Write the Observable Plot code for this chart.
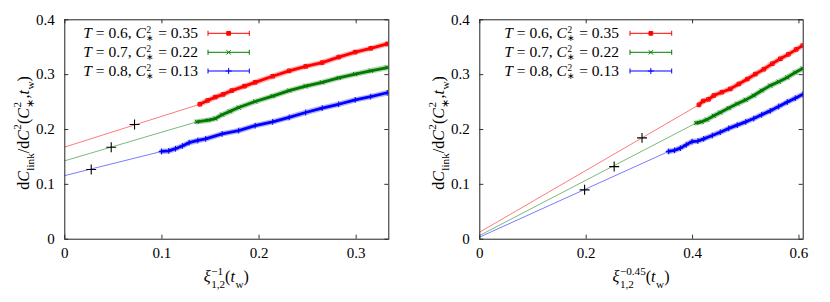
<!DOCTYPE html>
<html><head><meta charset="utf-8">
<script src="https://cdn.jsdelivr.net/npm/d3@7"></script>
<script src="https://cdn.jsdelivr.net/npm/@observablehq/plot@0.6"></script>
<style>
html,body{margin:0;padding:0;background:#fff;}
#row{display:flex;flex-direction:row;width:830px;height:302px;}
svg{display:block;}
svg text{font-family:'Liberation Serif','Times New Roman',serif !important;}
</style>
</head><body><div id="row"></div>
<script>
// ---------- data ----------
const seriesNames = ["T=0.6", "T=0.7", "T=0.8"];
const seriesColors = ["#ff0000", "#007a00", "#0000ff"];
const legendTemps = ["0.6", "0.7", "0.8"];
const legendC2 = ["0.35", "0.22", "0.13"];

// Left panel: x = xi^{-1}
const xTicksA = [0, 0.1, 0.2, 0.3];
const yTicks = [0, 0.1, 0.2, 0.3, 0.4];
const redA_x = [0.139, 0.147, 0.155, 0.163, 0.172, 0.185, 0.196, 0.214, 0.231, 0.248, 0.265, 0.282, 0.299, 0.315, 0.332];
const redA_y = [0.246, 0.253, 0.259, 0.264, 0.271, 0.279, 0.286, 0.297, 0.307, 0.315, 0.322, 0.332, 0.341, 0.348, 0.356];
const greenA_x = [0.136, 0.148, 0.155, 0.162, 0.170, 0.179, 0.196, 0.214, 0.231, 0.248, 0.265, 0.282, 0.299, 0.315, 0.332];
const greenA_y = [0.214, 0.217, 0.220, 0.227, 0.233, 0.240, 0.251, 0.261, 0.271, 0.279, 0.286, 0.294, 0.301, 0.307, 0.313];
const blueA_x = [0.0996, 0.107, 0.114, 0.121, 0.128, 0.137, 0.145, 0.162, 0.179, 0.196, 0.214, 0.231, 0.248, 0.265, 0.282, 0.299, 0.315, 0.332];
const blueA_y = [0.160, 0.161, 0.165, 0.170, 0.176, 0.180, 0.183, 0.192, 0.198, 0.207, 0.214, 0.222, 0.231, 0.239, 0.246, 0.254, 0.260, 0.267];
const fitInterceptA = [0.168, 0.143, 0.116];
const crossA_x = [0.0718, 0.0478, 0.0272];
const crossA_y = [0.209, 0.1676, 0.127];

// Right panel: x = xi^{-0.45}
const xTicksB = [0, 0.2, 0.4, 0.6];
const redB_x = [0.412, 0.420, 0.430, 0.440, 0.455, 0.471, 0.487, 0.503, 0.518, 0.534, 0.550, 0.565, 0.580, 0.595, 0.607];
const redB_y = [0.245, 0.252, 0.255, 0.262, 0.268, 0.274, 0.283, 0.292, 0.301, 0.310, 0.320, 0.329, 0.337, 0.346, 0.353];
const greenB_x = [0.407, 0.417, 0.427, 0.440, 0.452, 0.468, 0.484, 0.500, 0.515, 0.530, 0.546, 0.562, 0.578, 0.593, 0.607];
const greenB_y = [0.212, 0.214, 0.218, 0.225, 0.231, 0.239, 0.247, 0.254, 0.262, 0.271, 0.280, 0.287, 0.295, 0.304, 0.311];
const blueB_x = [0.355, 0.366, 0.377, 0.388, 0.399, 0.410, 0.421, 0.437, 0.452, 0.468, 0.484, 0.500, 0.515, 0.530, 0.546, 0.562, 0.578, 0.593, 0.607];
const blueB_y = [0.160, 0.162, 0.166, 0.172, 0.178, 0.179, 0.183, 0.189, 0.195, 0.202, 0.208, 0.214, 0.220, 0.227, 0.234, 0.242, 0.250, 0.257, 0.264];
const fitInterceptB = [0.013, 0.007, 0.004];
const crossB_x = [0.305, 0.2526, 0.197];
const crossB_y = [0.1847, 0.1324, 0.090];

// ---------- build ----------
const FONT = "'Liberation Serif','Times New Roman',serif";
const FS = 15;

function toRows(xs, ys, s) { return xs.map((x, i) => ({x, y: ys[i], s})); }

function addText(g, x, y, fs, italic, str) {
  return g.append("text").attr("x", x).attr("y", y)
    .attr("text-anchor", "start")
    .style("font-family", FONT).style("font-size", fs + "px")
    .style("font-style", italic ? "italic" : "normal")
    .style("white-space", "pre")
    .text(str);
}

function richText(g, parts, fs, opt = {}) {
  const k = opt.k || 0.7, supK = opt.sup || 0.45, subK = opt.sub || 0.36;
  let cur = 0;
  for (const p of parts) {
    if (p.t !== undefined) {
      const t = addText(g, cur, 0, p.fs || fs, p.i, p.t);
      cur += t.node().getComputedTextLength();
    }
    if (p.sup !== undefined || p.sub !== undefined) {
      const sf = fs * k;
      const t = g.append("text").attr("text-anchor", "start")
        .style("font-family", FONT).style("font-size", sf + "px").style("white-space", "pre");
      let w = 0;
      if (p.sup !== undefined) {
        const ts = t.append("tspan").attr("x", cur + 0.5).attr("y", -fs * supK).text(p.sup);
        w = Math.max(w, ts.node().getComputedTextLength() + 0.5);
      }
      if (p.sub !== undefined) {
        const ts = t.append("tspan").attr("x", cur + 0.5).attr("y", fs * subK).text(p.sub);
        w = Math.max(w, ts.node().getComputedTextLength() + 0.5);
      }
      cur += w;
    }
  }
  return cur;
}

function panel(cfg) {
  const W = 415, H = 302, mt = 19.3, mb = 63.3, ml = 64.3, mr = cfg.mr;
  const ih = H - mt - mb, iw = W - ml - mr;
  const data = [
    ...toRows(cfg.red[0], cfg.red[1], seriesNames[0]),
    ...toRows(cfg.green[0], cfg.green[1], seriesNames[1]),
    ...toRows(cfg.blue[0], cfg.blue[1], seriesNames[2])
  ];
  const starts = [cfg.red, cfg.green, cfg.blue].map(a => [a[0][0], a[1][0]]);
  const fits = [];
  seriesNames.forEach((s, i) => {
    fits.push({x: 0, y: cfg.fit[i], s});
    fits.push({x: starts[i][0], y: starts[i][1], s});
  });
  const crosses = cfg.cross[0].map((x, i) => ({x, y: cfg.cross[1][i]}));
  const color = {domain: seriesNames, range: seriesColors};
  const symbols = ["square", "times", "plus"];

  const svg = Plot.plot({
    width: W, height: H,
    marginTop: mt, marginBottom: mb, marginLeft: ml, marginRight: mr,
    style: `font-family: ${FONT}; font-size: ${FS}px; background: #fff; color: #000;`,
    x: {domain: cfg.xdom, label: null},
    y: {domain: [0, 0.4], label: null},
    color: color,
    symbol: {domain: seriesNames, range: symbols},
    marks: [
      Plot.line(fits, {x: "x", y: "y", z: "s", stroke: "s", strokeWidth: 0.7, strokeOpacity: 0.75}),
      Plot.line(data, {x: "x", y: "y", z: "s", stroke: "s", strokeWidth: 5.5, strokeOpacity: 0.3, clip: true}),
      Plot.line(data, {x: "x", y: "y", z: "s", stroke: "s", strokeWidth: 2.8, clip: true}),
      Plot.dot(data, {x: "x", y: "y", stroke: "s", symbol: "s", r: 2, strokeWidth: 1, clip: true}),
      Plot.dot(crosses, {x: "x", y: "y", symbol: "plus", r: 3.3, stroke: "#000", strokeWidth: 1.1}),
      Plot.tickX(cfg.xticks, {x: d => d, insetTop: ih - 4, stroke: "#333"}),
      Plot.tickX(cfg.xticks, {x: d => d, insetBottom: ih - 4, stroke: "#333"}),
      Plot.tickY(yTicks, {y: d => d, insetRight: iw - 4, stroke: "#333"}),
      Plot.tickY(yTicks, {y: d => d, insetLeft: iw - 4, stroke: "#333"}),
      Plot.frame({stroke: "#222", strokeWidth: 1}),
      Plot.axisX(cfg.xticks, {tickSize: 0, tickPadding: 8, tickFormat: d => String(d), fontSize: FS, fontFamily: FONT}),
      Plot.axisY(yTicks, {tickSize: 0, tickPadding: 10, tickFormat: d => String(d), fontSize: FS, fontFamily: FONT})
    ]
  });
  document.getElementById("row").appendChild(svg);
  const s = d3.select(svg);
  const lf = 16;

  // x label
  const gx = s.append("g").attr("fill", "#000");
  const wx = richText(gx, [
    {t: "ξ", i: true}, {sup: cfg.xsup, sub: "1,2"}, {t: "("}, {t: "t", i: true}, {sub: "w"}, {t: ")"}
  ], lf);
  gx.attr("transform", `translate(${ml + iw / 2 - wx / 2},282)`);

  // y label
  const gy = s.append("g").attr("fill", "#000");
  const wy = richText(gy, [
    {t: "d"}, {t: "C", i: true}, {sub: "link"}, {t: "/d"}, {t: "C", i: true}, {sup: "2"},
    {t: "("}, {t: "C", i: true}, {sub: "∗", sup: "2"}, {t: ","}, {t: "t", i: true}, {sub: "w"}, {t: ")"}
  ], lf);
  gy.attr("transform", `translate(28.5,${133 + wy / 2}) rotate(-90)`);

  // legend
  const legY = [33.3, 52.3, 71];
  seriesNames.forEach((name, i) => {
    const g = s.append("g").attr("fill", "#000");
    const w = richText(g, [
      {t: "T", i: true}, {t: " = " + legendTemps[i] + ", "}, {t: "C", i: true}, {sup: "2", sub: "∗"},
      {t: " = " + legendC2[i]}
    ], 15.5, {k: 0.6, sup: 0.32, sub: 0.2});
    g.attr("transform", `translate(${cfg.legTextRight - w},${legY[i] + 5})`);
    const c = seriesColors[i];
    const x1 = cfg.legLine[0], x2 = cfg.legLine[1], xm = (x1 + x2) / 2;
    const lg = s.append("g").attr("stroke", c).attr("stroke-width", 1).attr("fill", "none");
    lg.append("line").attr("x1", x1).attr("x2", x2).attr("y1", legY[i]).attr("y2", legY[i]);
    lg.append("line").attr("x1", x1).attr("x2", x1).attr("y1", legY[i] - 2.5).attr("y2", legY[i] + 2.5);
    lg.append("line").attr("x1", x2).attr("x2", x2).attr("y1", legY[i] - 2.5).attr("y2", legY[i] + 2.5);
    const sym = d3.symbol().type([d3.symbolSquare, d3.symbolTimes, d3.symbolPlus][i]).size(14);
    lg.append("path").attr("d", sym()).attr("transform", `translate(${xm},${legY[i]})`)
      .attr("fill", i === 0 ? c : "none");
  });
}

panel({
  xdom: [0, 0.3336], xticks: xTicksA, mr: 26.7,
  red: [redA_x, redA_y], green: [greenA_x, greenA_y], blue: [blueA_x, blueA_y],
  fit: fitInterceptA, cross: [crossA_x, crossA_y], xsup: "−1",
  legTextRight: 198, legLine: [208, 249.3]
});
panel({
  xdom: [0, 0.608], xticks: xTicksB, mr: 27.3,
  red: [redB_x, redB_y], green: [greenB_x, greenB_y], blue: [blueB_x, blueB_y],
  fit: fitInterceptB, cross: [crossB_x, crossB_y], xsup: "−0.45",
  legTextRight: 204, legLine: [215, 256.7]
});
</script>
</body></html>
